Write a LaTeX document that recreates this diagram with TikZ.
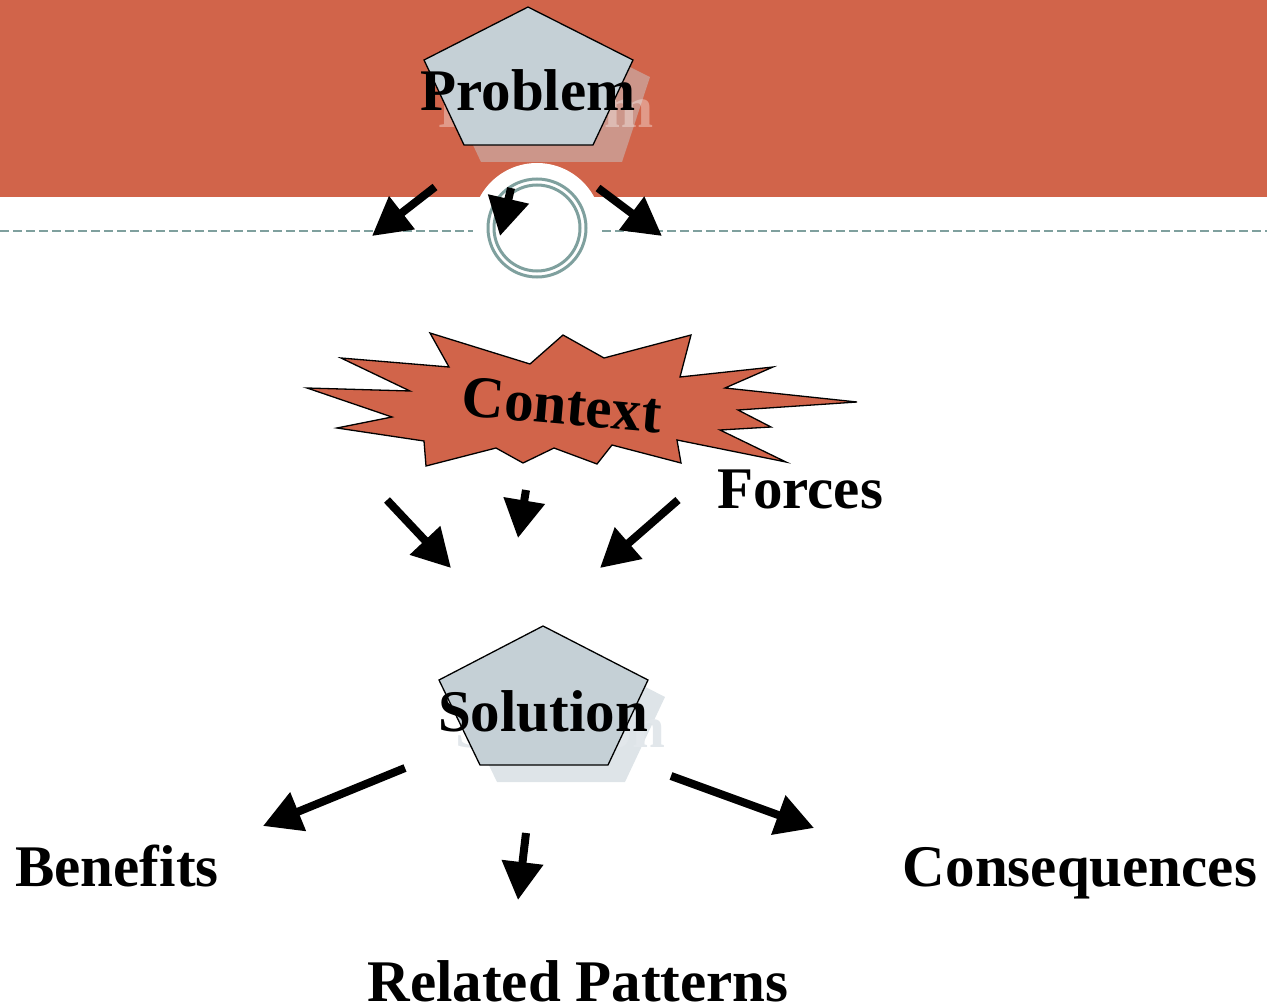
\documentclass[tikz,border=0pt]{standalone}
\usepackage{fontspec}
\setmainfont{Liberation Serif}
\usetikzlibrary{arrows.meta}
\definecolor{band}{RGB}{209,100,74}
\definecolor{slate}{RGB}{197,208,214}
\definecolor{ring}{RGB}{127,160,158}
\definecolor{shadeA}{RGB}{204,150,138}
\definecolor{shadeB}{RGB}{222,228,232}
\definecolor{ghostB}{RGB}{226,231,235}

\begin{document}
\begin{tikzpicture}[x=1pt,y=-1pt,
  flow/.style={line width=8pt, -{Triangle[length=38pt,width=40pt]}},
  lbl/.style={font=\fontsize{59}{62}\selectfont\bfseries, inner sep=0pt},
  pent/.style={draw=black, line width=1.3pt, fill=slate, line join=miter},
  burst/.style={draw=black, line width=1.3pt, fill=band, line join=miter}]

\useasboundingbox (0,0) rectangle (1267,1006);

% header band with the white notch
\fill[band] (0,0) rectangle (1267,197);
\coordinate (hub) at (537,228);
\fill[white] (hub) circle (65);
\draw[ring, line width=1.6pt, dash pattern=on 9pt off 4pt] (0,231) -- (473,231);
\draw[ring, line width=1.6pt, dash pattern=on 9pt off 4pt] (602,231) -- (1267,231);
\draw[ring, line width=3pt] (hub) circle (49);
\draw[ring, line width=3pt] (hub) circle (43);

% Problem pentagon with its shadow
\fill[shadeA] (545,25) -- (650,77) -- (622,162) -- (481,162) -- (441,77) -- cycle;
\node[lbl, anchor=base, text=white, opacity=0.35] (problemghost) at (546,128) {Problem};
\path[pent] (528,7) -- (633,60) -- (593,145) -- (464,145) -- (424,60) -- cycle;
\node[lbl, anchor=base] (problem) at (528,111) {Problem};

% Context starburst
\path[burst] (430,333) -- (530,364) -- (563,335) -- (604,358) -- (691,335)
  -- (680,377) -- (773,367) -- (725,388) -- (857,402) -- (738,410)
  -- (771,427) -- (720,430) -- (786,462) -- (677,440) -- (681,463)
  -- (612,445) -- (597,464) -- (554,448) -- (523,463) -- (496,448)
  -- (426,466) -- (424,441) -- (337,428) -- (392,417) -- (307,388)
  -- (410,391) -- (341,358) -- (449,367) -- cycle;
\node[lbl, rotate=-5] (context) at (562,405) {Context};

\node[lbl, anchor=base] (forces) at (800,508) {Forces};

% Solution pentagon with its shadow
\fill[shadeB] (560,643) -- (665,697) -- (625,782) -- (497,782) -- (456,697) -- cycle;
\node[lbl, anchor=base, text=ghostB] (solutionghost) at (560,747) {Solution};
\path[pent] (543,626) -- (648,680) -- (608,765) -- (480,765) -- (439,680) -- cycle;
\node[lbl, anchor=base] (solution) at (543,731) {Solution};

\node[lbl, anchor=base] (benefits) at (117,886) {Benefits};
\node[lbl, anchor=base] (consequences) at (1080,886) {Consequences};
\node[lbl, anchor=base] (related) at (578,1001) {Related Patterns};

% arrow end points
\coordinate (a1s) at (435,187); \coordinate (a1e) at (372,236);
\coordinate (a2s) at (511,188); \coordinate (a2e) at (500,236);
\coordinate (a3s) at (598,188); \coordinate (a3e) at (662,236);
\coordinate (b1s) at (387,500); \coordinate (b1e) at (451,568);
\coordinate (b2s) at (526,490); \coordinate (b2e) at (518,538);
\coordinate (b3s) at (678,500); \coordinate (b3e) at (600,568);
\coordinate (c1s) at (405,768); \coordinate (c1e) at (263,826);
\coordinate (c2s) at (526,833); \coordinate (c2e) at (518,900);
\coordinate (c3s) at (671,776); \coordinate (c3e) at (814,828);

\foreach \s/\e in {a1s/a1e,a2s/a2e,a3s/a3e,b1s/b1e,b2s/b2e,b3s/b3e,c1s/c1e,c2s/c2e,c3s/c3e}
  \draw[flow] (\s) -- (\e);

\end{tikzpicture}
\end{document}
